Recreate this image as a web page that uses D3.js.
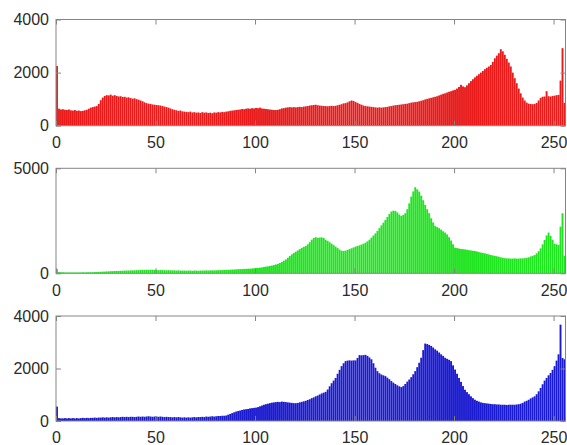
<!DOCTYPE html>
<html>
<head>
<meta charset="utf-8">
<script src="https://cdn.jsdelivr.net/npm/d3@7"></script>
<style>
  body { margin: 0; background: #fff; }
  svg { display: block; font-family: "Liberation Sans", Arial, sans-serif; }
</style>
</head>
<body>
<div id="chart"></div>
<script>
// histogram counts per intensity level 0..255
const redCounts = [
  2250, 640, 610, 620, 600, 590, 610, 580, 570, 590,
  560, 570, 550, 560, 580, 600, 640, 680, 700, 720,
  740, 820, 960, 1060, 1120, 1150, 1140, 1170, 1130, 1150,
  1120, 1100, 1110, 1080, 1090, 1060, 1070, 1040, 1020, 1030,
  1000, 980, 950, 920, 880, 850, 830, 820, 800, 790,
  780, 770, 760, 740, 720, 700, 680, 650, 620, 600,
  580, 560, 570, 540, 530, 520, 510, 530, 500, 510,
  490, 500, 480, 510, 490, 500, 480, 490, 470, 500,
  490, 510, 500, 520, 510, 530, 540, 560, 570, 580,
  590, 600, 610, 630, 620, 640, 650, 640, 660, 650,
  670, 660, 680, 650, 640, 630, 620, 610, 600, 590,
  590, 600, 620, 650, 660, 680, 690, 700, 690, 700,
  690, 700, 710, 700, 720, 730, 740, 760, 770, 780,
  790, 770, 760, 750, 740, 740, 730, 740, 750, 740,
  750, 770, 790, 810, 840, 850, 880, 920, 950, 930,
  890, 860, 820, 790, 760, 740, 730, 720, 710, 700,
  690, 680, 690, 680, 690, 700, 710, 730, 740, 760,
  770, 780, 790, 800, 810, 820, 830, 850, 870, 880,
  890, 900, 920, 940, 960, 990, 1010, 1030, 1050, 1070,
  1090, 1110, 1140, 1170, 1200, 1220, 1250, 1280, 1300, 1330,
  1350, 1400, 1460, 1540, 1480, 1450, 1520, 1600, 1680, 1750,
  1820, 1880, 1940, 2000, 2060, 2130, 2180, 2230, 2290, 2400,
  2540, 2640, 2730, 2880, 2800, 2670, 2520, 2380, 2230, 2000,
  1790, 1600, 1400, 1220, 1060, 950, 870, 830, 820, 810,
  820, 860, 950, 1050, 1090, 1100, 1300, 1110, 1100, 1120,
  1130, 1150, 1160, 1700, 2920, 860
];
const greenCounts = [
  200, 60, 50, 50, 40, 40, 40, 40, 40, 40,
  40, 40, 40, 50, 40, 50, 50, 50, 50, 60,
  60, 70, 70, 80, 80, 90, 90, 100, 100, 110,
  110, 110, 120, 120, 130, 130, 130, 140, 140, 140,
  150, 150, 160, 160, 160, 170, 160, 170, 170, 160,
  160, 150, 160, 150, 150, 140, 150, 140, 140, 140,
  130, 140, 130, 130, 130, 120, 130, 130, 120, 130,
  130, 120, 130, 130, 130, 140, 130, 140, 140, 140,
  140, 150, 150, 150, 160, 160, 170, 170, 180, 180,
  190, 190, 200, 200, 210, 210, 220, 220, 230, 240,
  250, 260, 270, 280, 300, 320, 330, 350, 370, 390,
  420, 450, 490, 540, 600, 660, 740, 820, 900, 970,
  1030, 1090, 1150, 1210, 1260, 1300, 1380, 1480, 1600, 1680,
  1720, 1690, 1700, 1710, 1680, 1600, 1540, 1480, 1410, 1340,
  1270, 1200, 1130, 1070, 1060, 1080, 1110, 1150, 1190, 1230,
  1270, 1300, 1330, 1370, 1410, 1460, 1520, 1600, 1700, 1800,
  1900, 2020, 2150, 2280, 2410, 2540, 2680, 2820, 2940, 2980,
  2970, 2900, 2800, 2730, 2780, 2860, 3050, 3330, 3650, 3900,
  4100, 4000, 3890, 3700, 3480, 3250, 3050, 2860, 2620, 2420,
  2250, 2200, 2150, 2080, 2000, 1940, 1850, 1720, 1560, 1380,
  1220, 1200, 1180, 1160, 1150, 1140, 1120, 1100, 1090, 1070,
  1060, 1040, 1010, 990, 970, 950, 920, 900, 870, 850,
  830, 810, 790, 760, 740, 720, 710, 710, 700, 700,
  710, 700, 700, 710, 710, 720, 740, 760, 800, 830,
  870, 950, 1050, 1190, 1380, 1590, 1800, 1940, 1780, 1600,
  1400, 1380, 1350, 2220, 2860, 830
];
const blueCounts = [
  550, 110, 100, 100, 110, 100, 110, 100, 110, 100,
  110, 100, 110, 120, 110, 120, 110, 120, 120, 130,
  120, 130, 130, 140, 130, 140, 130, 140, 150, 140,
  150, 140, 150, 160, 150, 160, 150, 160, 160, 150,
  160, 170, 160, 170, 160, 170, 180, 170, 160, 170,
  170, 160, 170, 160, 150, 160, 150, 150, 140, 150,
  140, 150, 140, 130, 140, 130, 140, 130, 140, 150,
  140, 150, 150, 160, 150, 170, 160, 170, 180, 170,
  180, 190, 190, 200, 200, 210, 240, 270, 300, 330,
  360, 380, 400, 420, 440, 450, 460, 480, 490, 500,
  510, 530, 560, 590, 620, 640, 660, 680, 700, 710,
  720, 730, 720, 740, 730, 720, 710, 700, 690, 680,
  680, 690, 710, 730, 750, 770, 800, 830, 870, 900,
  940, 970, 1010, 1050, 1080, 1110, 1200, 1320, 1440, 1540,
  1640, 1800, 1950, 2090, 2200, 2280, 2300, 2310, 2300, 2310,
  2310, 2400, 2510, 2500, 2510, 2520, 2480, 2420, 2350, 2200,
  2030, 1900, 1820, 1770, 1740, 1710, 1650, 1590, 1520, 1460,
  1410, 1360, 1320, 1290, 1330, 1410, 1500, 1580, 1670, 1780,
  1900, 2050, 2220, 2410, 2700, 2950, 2930, 2900, 2860, 2800,
  2730, 2680, 2610, 2540, 2480, 2410, 2370, 2330, 2280, 2120,
  1960, 1800, 1640, 1490, 1330, 1190, 1100, 1020, 940, 870,
  810, 770, 740, 710, 690, 680, 670, 660, 650, 640,
  640, 630, 630, 620, 620, 620, 610, 620, 620, 620,
  620, 630, 640, 660, 690, 740, 770, 810, 860, 900,
  940, 1020, 1130, 1260, 1400, 1540, 1640, 1740, 1830, 1950,
  2090, 2300, 2540, 3670, 2400, 2350
];

const xTicks = [0, 50, 100, 150, 200, 250];

const panels = [
  { counts: redCounts,   color: "#e81a1a", yMax: 4000, yTicks: [0, 2000, 4000], top: 19.5, bottom: 125.7 },
  { counts: greenCounts, color: "#1fe41f", yMax: 5000, yTicks: [0, 5000],       top: 168.3, bottom: 273.3 },
  { counts: blueCounts,  color: "#1a1ad0", yMax: 4000, yTicks: [0, 2000, 4000], top: 316,   bottom: 421 }
];

const width = 567, height = 445;
const left = 56, right = 565.5;

const svg = d3.select("#chart").append("svg")
  .attr("width", width)
  .attr("height", height);

const x = d3.scaleLinear().domain([0, 256]).range([left, right]);
const barW = x(1) - x(0) - 0.1;

panels.forEach(function (p) {
  const y = d3.scaleLinear().domain([0, p.yMax]).range([p.bottom, p.top]);
  const g = svg.append("g");

  g.append("g")
    .selectAll("rect")
    .data(p.counts)
    .join("rect")
    .attr("x", (d, i) => x(i) + 0.05)
    .attr("width", barW)
    .attr("y", d => y(d))
    .attr("height", d => y(0) - y(d))
    .attr("fill", p.color);

  // box
  g.append("rect")
    .attr("x", left)
    .attr("y", p.top)
    .attr("width", right - left)
    .attr("height", p.bottom - p.top)
    .attr("fill", "none")
    .attr("stroke", "#858585")
    .attr("stroke-width", 1);

  const fmt = d3.format("d");

  const bottomAxis = g.append("g")
    .attr("transform", `translate(0,${p.bottom})`)
    .call(d3.axisBottom(x).tickValues(xTicks).tickFormat(fmt).tickSizeInner(-5).tickSizeOuter(0).tickPadding(11));

  const topAxis = g.append("g")
    .attr("transform", `translate(0,${p.top})`)
    .call(d3.axisTop(x).tickValues(xTicks).tickSizeInner(-5).tickSizeOuter(0).tickFormat(""));

  const leftAxis = g.append("g")
    .attr("transform", `translate(${left},0)`)
    .call(d3.axisLeft(y).tickValues(p.yTicks).tickFormat(fmt).tickSizeInner(-5).tickSizeOuter(0).tickPadding(7));

  const rightAxis = g.append("g")
    .attr("transform", `translate(${right},0)`)
    .call(d3.axisRight(y).tickValues(p.yTicks).tickSizeInner(-5).tickSizeOuter(0).tickFormat(""));

  [bottomAxis, topAxis, leftAxis, rightAxis].forEach(function (a) {
    a.select(".domain").remove();
    a.selectAll("line").attr("stroke", "#858585");
    a.selectAll("text")
      .attr("fill", "#2b2b2b")
      .attr("font-size", "16px")
      .attr("font-family", "Liberation Sans, Arial, sans-serif");
  });
});
</script>
</body>
</html>
